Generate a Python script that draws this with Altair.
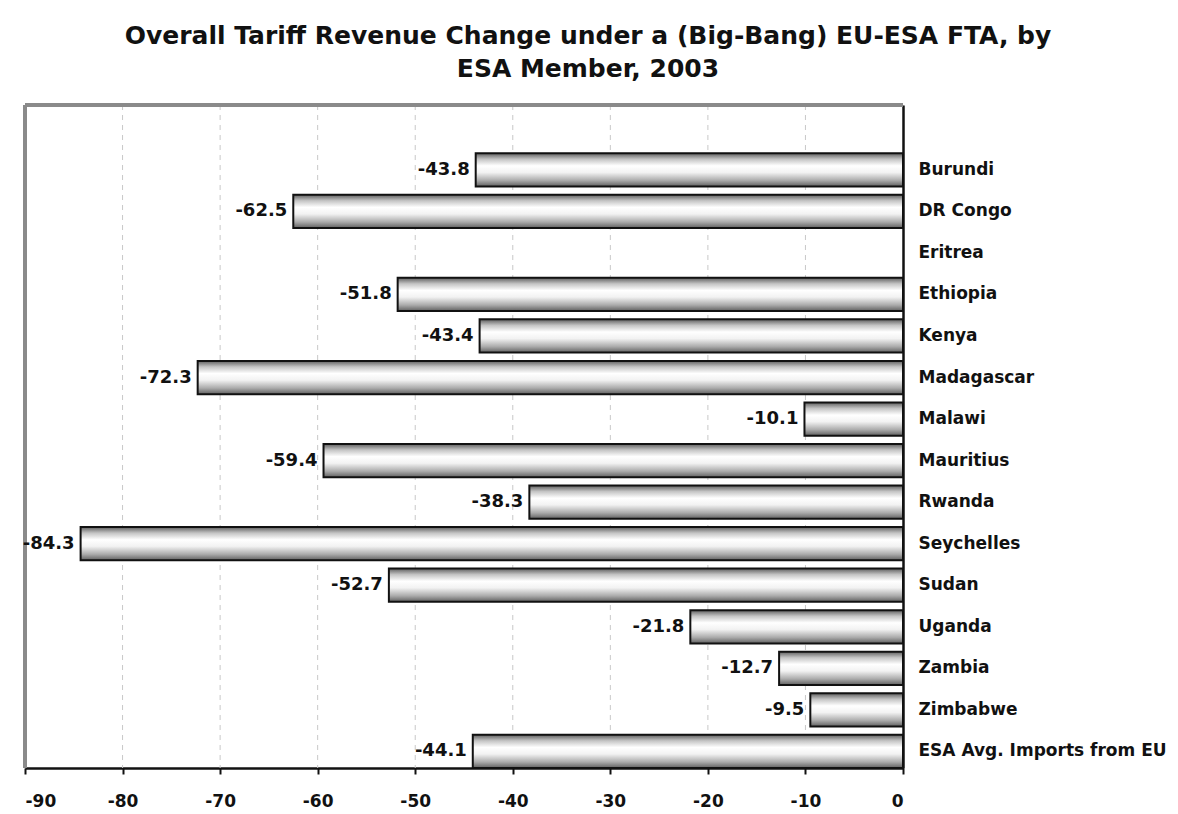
import altair as alt
import pandas as pd

countries = ["Burundi", "DR Congo", "Eritrea", "Ethiopia", "Kenya", "Madagascar",
             "Malawi", "Mauritius", "Rwanda", "Seychelles", "Sudan", "Uganda",
             "Zambia", "Zimbabwe", "ESA Avg. Imports from EU"]
values = [-43.8, -62.5, None, -51.8, -43.4, -72.3, -10.1, -59.4, -38.3, -84.3,
          -52.7, -21.8, -12.7, -9.5, -44.1]
x_ticks = [-90, -80, -70, -60, -50, -40, -30, -20, -10, 0]
grid_ticks = [-80, -70, -60, -50, -40, -30, -20, -10]

df = pd.DataFrame({"country": countries, "value": values})
df["label"] = [("" if v is None or pd.isna(v) else f"{v:.1f}") for v in df["value"]]

FONT = "DejaVu Sans"
H = 663

xscale = alt.Scale(domain=[-90, 0], nice=False, zero=False)
yscale = alt.Scale(domain=countries, paddingInner=0.2, paddingOuter=0.58, align=1)

grad = alt.LinearGradient(
    gradient="linear",
    stops=[
        alt.GradientStop(color="#5e5e5e", offset=0),
        alt.GradientStop(color="#c4c4c4", offset=0.18),
        alt.GradientStop(color="#ffffff", offset=0.38),
        alt.GradientStop(color="#f2f2f2", offset=0.58),
        alt.GradientStop(color="#ababab", offset=0.82),
        alt.GradientStop(color="#606060", offset=1),
    ],
    x1=0, x2=0, y1=0, y2=1,
)

base = alt.Chart(df)

# dashed gridlines
grid_df = pd.DataFrame({"g": grid_ticks})
grid = alt.Chart(grid_df).mark_rule(color="#c8c8c8", strokeWidth=1, strokeDash=[5, 5]).encode(
    x=alt.X("g:Q", scale=xscale),
    y=alt.value(0), y2=alt.value(H),
)

# gray frame on top and left
left_edge = alt.Chart(grid_df).mark_rule(color="#8a8a8a", strokeWidth=3).encode(
    x=alt.datum(-90, scale=xscale), y=alt.value(0), y2=alt.value(H),
)
top_edge = alt.Chart(grid_df).mark_rule(color="#8a8a8a", strokeWidth=3).encode(
    x=alt.datum(-90, scale=xscale), x2=alt.datum(0), y=alt.value(0),
)

bars = base.mark_bar(fill=grad, stroke="#111111", strokeWidth=2).encode(
    x=alt.X("value:Q", scale=xscale,
            axis=alt.Axis(values=x_ticks, title=None, grid=False,
                          domainColor="#111111", domainWidth=2.5,
                          tickColor="#111111", tickWidth=2, tickSize=6,
                          labelPadding=19, labelFont=FONT, labelFontSize=17,
                          labelFontWeight="bold", labelColor="#111111",
                          labelExpr="'' + datum.value")),
    x2=alt.datum(0),
    y=alt.Y("country:N", scale=yscale, sort=countries,
            axis=alt.Axis(orient="right", title=None, ticks=False,
                          domainColor="#111111", domainWidth=2.5,
                          labelPadding=15, labelFont=FONT, labelFontSize=17,
                          labelFontWeight="bold", labelColor="#111111",
                          labelAlign="left", labelLimit=0)),
)

labels = base.transform_filter("datum.value != null").mark_text(
    align="right", baseline="middle", dx=-6, font=FONT, fontSize=18,
    fontWeight="bold", color="#111111"
).encode(
    x=alt.X("value:Q", scale=xscale),
    y=alt.Y("country:N", scale=yscale, sort=countries),
    text="label:N",
)

chart = (grid + left_edge + top_edge + bars + labels).properties(
    width=878, height=H,
    autosize=alt.AutoSizeParams(type="none"),
    padding={"left": 25, "top": 105, "right": 275, "bottom": 46},
    title=alt.TitleParams(
        ["Overall Tariff Revenue Change under a (Big-Bang) EU-ESA FTA, by",
         "ESA Member, 2003"],
        font=FONT, fontSize=25, fontWeight="bold", color="#111111",
        anchor="middle", dx=124, offset=22, lineHeight=33,
    ),
).configure_view(stroke=None).configure(background="white")

chart.save("out.html", embed_options={"renderer": "svg", "actions": False})
